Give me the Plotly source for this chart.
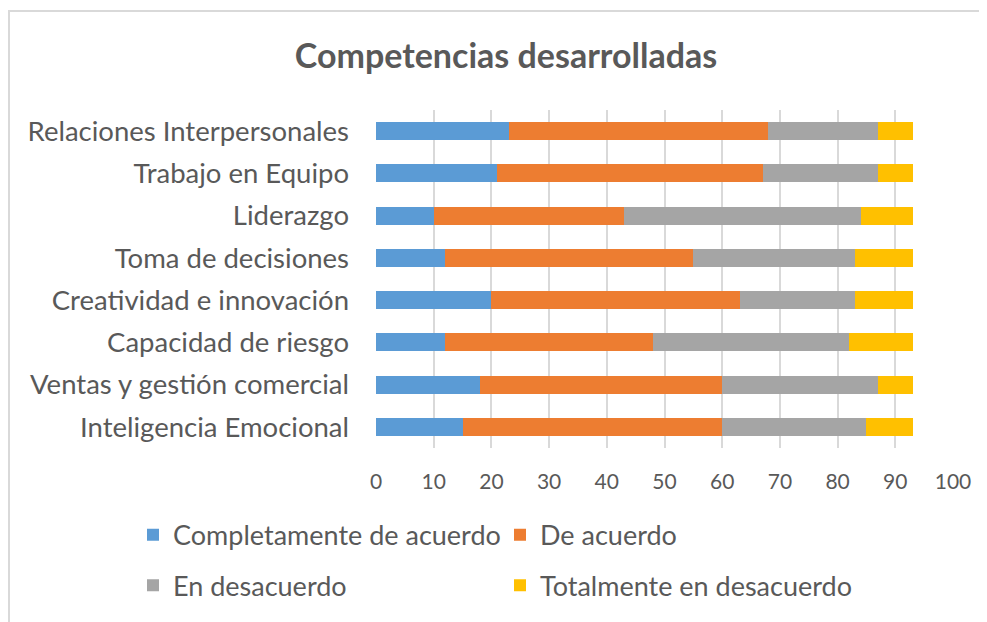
import plotly.graph_objects as go

categories = [
    "Relaciones Interpersonales",
    "Trabajo en Equipo",
    "Liderazgo",
    "Toma de decisiones",
    "Creatividad e innovación",
    "Capacidad de riesgo",
    "Ventas y gestión comercial",
    "Inteligencia Emocional",
]
series_names = [
    "Completamente de acuerdo",
    "De acuerdo",
    "En desacuerdo",
    "Totalmente en desacuerdo",
]
completamente = [23, 21, 10, 12, 20, 12, 18, 15]
de_acuerdo = [45, 46, 33, 43, 43, 36, 42, 45]
en_desacuerdo = [19, 20, 41, 28, 20, 34, 27, 25]
totalmente = [6, 6, 9, 10, 10, 11, 6, 8]
x_ticks = [0, 10, 20, 30, 40, 50, 60, 70, 80, 90, 100]

colors = ["#5B9BD5", "#ED7D31", "#A5A5A5", "#FFC000"]
values = [completamente, de_acuerdo, en_desacuerdo, totalmente]
legends = ["legend", "legend2", "legend3", "legend4"]

# page has an 8px body margin; work in page coordinates and subtract it
OFF = 8
W, H = 987 - OFF, 622 - OFF
PL, PR, PT, PB = 376, 953, 110, 451  # plot area in page coordinates
L, T = PL - OFF, PT - OFF
R = W - (PR - OFF)
B = H - (PB - OFF)
pw, ph = W - L - R, H - T - B


def px_x(px):
    return (px - PL) / pw


def px_y(py):
    return (PB - py) / ph


FONT = "Lato"
TXT = "#595959"

fig = go.Figure()
for name, vals, col, lg in zip(series_names, values, colors, legends):
    fig.add_trace(go.Bar(
        y=categories, x=vals, name=name, orientation="h",
        marker=dict(color=col, line=dict(width=0)),
        legend=lg,
    ))

leg_pos = [(133, 539), (500, 539), (133, 590), (500, 590)]
leg_layout = {}
for lg, (lx, ly) in zip(legends, leg_pos):
    leg_layout[lg] = dict(
        x=px_x(lx), y=px_y(ly), xanchor="left", yanchor="middle",
        orientation="h", font=dict(family=FONT, size=27, color=TXT),
        bgcolor="rgba(0,0,0,0)",
    )

fig.update_layout(
    width=W, height=H,
    margin=dict(l=L, r=R, t=T, b=B, pad=0),
    barmode="stack",
    bargap=0.57,
    paper_bgcolor="white",
    plot_bgcolor="white",
    title=dict(
        text="<b>Competencias desarrolladas</b>",
        x=(506 - OFF) / W, y=1 - (56 - OFF) / H, xanchor="center", yanchor="middle",
        xref="container", yref="container",
        font=dict(family=FONT, size=34, color=TXT),
    ),
    xaxis=dict(
        range=[0, 100], tickvals=x_ticks, showgrid=True,
        gridcolor="#D9D9D9", gridwidth=1.5, zeroline=False,
        showline=False, ticks="", ticklabelstandoff=19,
        tickfont=dict(family=FONT, size=21, color=TXT),
    ),
    yaxis=dict(
        autorange="reversed", showgrid=False, zeroline=False,
        showline=False, ticks="", ticklabelstandoff=26,
        tickfont=dict(family=FONT, size=27.5, color=TXT),
    ),
    showlegend=True,
    shapes=[dict(
        type="rect", xref="paper", yref="paper",
        x0=px_x(9), x1=px_x(1000), y0=px_y(640), y1=px_y(10),
        line=dict(color="#D9D9D9", width=2), fillcolor="rgba(0,0,0,0)",
        layer="below",
    )],
    **leg_layout,
)

fig.write_html("out.html")
